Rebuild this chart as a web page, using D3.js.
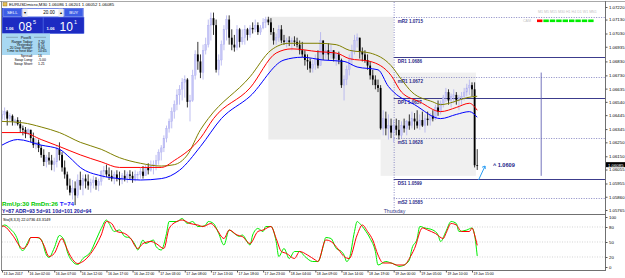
<!DOCTYPE html>
<html><head><meta charset="utf-8">
<script src="https://cdn.jsdelivr.net/npm/d3@7"></script>
<style>body{margin:0;background:#fff;overflow:hidden}svg{display:block}</style>
</head><body><svg id="c" width="625" height="278"></svg>
<script>
// ---------------- DATA ----------------
const titleText = "EURUSDmicro,M30  1.06086 1.06201 1.06052 1.06085";
const timeLabels = ["13 Jan 2017","16 Jan 02:00","16 Jan 07:00","16 Jan 12:00","16 Jan 17:00","16 Jan 22:00","17 Jan 03:00","17 Jan 08:00","17 Jan 13:00","17 Jan 18:00","17 Jan 23:00","18 Jan 04:00","18 Jan 09:00","18 Jan 14:00","18 Jan 19:00","19 Jan 00:00","19 Jan 05:00","19 Jan 10:00","19 Jan 15:00"];
const timeLabelBars = [0,10,20,30,40,50,60,70,80,90,100,110,120,130,140,150,160,170,180];
const priceTicks = [1.07220,1.07130,1.07030,1.06935,1.06830,1.06730,1.06635,1.06540,1.06445,1.06345,1.06250,1.06150,1.06055,1.05955,1.05860,1.05765];
const stochTicks = [100,80,50,20,0];
const firstOpen = 1.0642;
const highs = [1.0648,1.0650,1.0648,1.0646,1.0645,1.0642,1.0643,1.0641,1.0637,1.0636,
1.0635,1.0634,1.0632,1.0628,1.0627,1.0623,1.0620,1.0616,1.0618,1.0616,
1.0614,1.0623,1.0625,1.0618,1.0612,1.0604,1.0599,1.0598,1.0597,1.0602,
1.0604,1.0602,1.0602,1.0602,1.0599,1.0601,1.0600,1.0599,1.0605,1.0608,
1.0609,1.0607,1.0605,1.0604,1.0605,1.0604,1.0603,1.0605,1.0604,1.0605,
1.0604,1.0605,1.0604,1.0607,1.0608,1.0609,1.0610,1.0612,1.0612,1.0616,
1.0620,1.0623,1.0630,1.0637,1.0642,1.0650,1.0655,1.0663,1.0666,1.0671,
1.0673,1.0671,1.0659,1.0677,1.0691,1.0697,1.0688,1.0695,1.0700,1.0713,
1.0718,1.0718,1.0713,1.0688,1.0698,1.0709,1.0716,1.0716,1.0706,1.0702,
1.0709,1.0707,1.0706,1.0709,1.0707,1.0709,1.0711,1.0713,1.0711,1.0709,
1.0714,1.0715,1.0715,1.0714,1.0707,1.0703,1.0709,1.0709,1.0702,1.0700,
1.0701,1.0700,1.0701,1.0700,1.0698,1.0697,1.0691,1.0688,1.0685,1.0684,
1.0688,1.0691,1.0704,1.0698,1.0695,1.0696,1.0695,1.0691,1.0689,1.0690,
1.0685,1.0673,1.0680,1.0688,1.0695,1.0702,1.0703,1.0698,1.0693,1.0691,
1.0688,1.0683,1.0677,1.0673,1.0670,1.0666,1.0648,1.0647,1.0645,1.0642,
1.0641,1.0642,1.0641,1.0640,1.0642,1.0641,1.0645,1.0647,1.0646,1.0648,
1.0645,1.0647,1.0645,1.0647,1.0646,1.0648,1.0652,1.0655,1.0655,1.0659,
1.0664,1.0663,1.0660,1.0663,1.0661,1.0659,1.0661,1.0664,1.0667,1.0670,
1.0668,1.0668,1.06201];
const lows = [1.0640,1.0641,1.0637,1.0640,1.0637,1.0637,1.0637,1.0632,1.0630,1.0628,
1.0630,1.0625,1.0621,1.0620,1.0618,1.0614,1.0608,1.0607,1.0609,1.0605,
1.0604,1.0607,1.0612,1.0604,1.0599,1.0591,1.0587,1.0584,1.0580,1.0585,
1.0591,1.0587,1.0592,1.0591,1.0589,1.0592,1.0591,1.0590,1.0594,1.0599,
1.0600,1.0598,1.0597,1.0595,1.0597,1.0594,1.0595,1.0597,1.0596,1.0598,
1.0596,1.0597,1.0598,1.0599,1.0599,1.0601,1.0602,1.0604,1.0602,1.0605,
1.0609,1.0612,1.0618,1.0625,1.0632,1.0635,1.0642,1.0648,1.0652,1.0655,
1.0657,1.0650,1.0640,1.0654,1.0670,1.0677,1.0671,1.0670,1.0688,1.0693,
1.0698,1.0702,1.0675,1.0673,1.0680,1.0691,1.0698,1.0695,1.0691,1.0690,
1.0691,1.0693,1.0695,1.0695,1.0698,1.0700,1.0703,1.0704,1.0702,1.0702,
1.0706,1.0707,1.0709,1.0702,1.0695,1.0695,1.0697,1.0696,1.0695,1.0693,
1.0694,1.0691,1.0694,1.0693,1.0688,1.0686,1.0680,1.0677,1.0675,1.0675,
1.0677,1.0678,1.0683,1.0684,1.0685,1.0684,1.0685,1.0683,1.0680,1.0681,
1.0664,1.0655,1.0666,1.0673,1.0680,1.0688,1.0693,1.0685,1.0683,1.0682,
1.0677,1.0670,1.0666,1.0663,1.0661,1.0634,1.0630,1.0630,1.0627,1.0628,
1.0625,1.0630,1.0627,1.0628,1.0632,1.0630,1.0634,1.0635,1.0634,1.0635,
1.0634,1.0636,1.0632,1.0637,1.0637,1.0640,1.0641,1.0644,1.0645,1.0650,
1.0654,1.0652,1.0650,1.0653,1.0652,1.0648,1.0652,1.0655,1.0658,1.0659,
1.0658,1.0607,1.06052];
const closes = [1.0645,1.0647,1.0642,1.0644,1.0640,1.0641,1.0638,1.0635,1.0634,1.0631,
1.0634,1.0628,1.0623,1.0625,1.0621,1.0616,1.0611,1.0614,1.0612,1.0609,
1.0611,1.0620,1.0616,1.0607,1.0602,1.0594,1.0589,1.0592,1.0587,1.0598,
1.0594,1.0599,1.0597,1.0594,1.0596,1.0598,1.0594,1.0597,1.0604,1.0605,
1.0602,1.0601,1.0599,1.0602,1.0599,1.0598,1.0601,1.0599,1.0602,1.0601,
1.0599,1.0602,1.0602,1.0604,1.0601,1.0607,1.0605,1.0608,1.0609,1.0612,
1.0618,1.0621,1.0628,1.0635,1.0640,1.0647,1.0652,1.0659,1.0663,1.0668,
1.0670,1.0654,1.0655,1.0673,1.0688,1.0683,1.0675,1.0691,1.0695,1.0709,
1.0714,1.0709,1.0677,1.0684,1.0695,1.0706,1.0713,1.0700,1.0695,1.0693,
1.0706,1.0697,1.0700,1.0706,1.0702,1.0707,1.0706,1.0709,1.0704,1.0707,
1.0711,1.0713,1.0711,1.0704,1.0698,1.0700,1.0706,1.0698,1.0697,1.0698,
1.0697,1.0698,1.0697,1.0695,1.0691,1.0688,1.0684,1.0683,1.0678,1.0681,
1.0685,1.0680,1.0698,1.0688,1.0691,1.0688,1.0691,1.0685,1.0688,1.0684,
1.0666,1.0670,1.0677,1.0684,1.0691,1.0698,1.0700,1.0690,1.0688,1.0684,
1.0680,1.0673,1.0670,1.0666,1.0664,1.0635,1.0642,1.0635,1.0637,1.0632,
1.0637,1.0634,1.0630,1.0637,1.0635,1.0640,1.0637,1.0642,1.0640,1.0637,
1.0641,1.0637,1.0642,1.0641,1.0644,1.0642,1.0650,1.0647,1.0653,1.0657,
1.0661,1.0655,1.0658,1.0659,1.0655,1.0657,1.0658,1.0661,1.0664,1.0666,
1.0663,1.06086,1.06085];
const maOliveBars = [0,8,15,22,30,38,45,53,61,66,71,76,79,95,103,110,121,128,133,141,149,153,157,165,168,173,178,182];
const maOlive = [1.0640,1.0639,1.0636,1.0632,1.0625,1.0620,1.0614,1.0610,1.0608,1.0609,1.0616,1.0634,1.0642,1.0672,1.0691,1.0696,1.0696,1.0695,1.0691,1.0689,1.0680,1.0670,1.0661,1.0654,1.0652,1.0654,1.0657,1.0658];
const maRedBars = [0,8,15,22,30,38,45,53,61,66,76,81,95,105,111,121,128,133,141,149,153,160,168,174,179,182];
const maRed = [1.0632,1.0632,1.0627,1.0622,1.0616,1.0611,1.0607,1.0607,1.0607,1.0612,1.0628,1.0642,1.0664,1.0689,1.0692,1.0690,1.0689,1.0685,1.0683,1.0673,1.0661,1.0654,1.0647,1.0650,1.0653,1.0648];
const maBlueBars = [0,6,15,22,26,30,38,45,53,61,68,76,84,95,108,115,123,131,136,144,148,150,158,168,174,179,182];
const maBlue = [1.0623,1.0627,1.0623,1.0620,1.0614,1.0607,1.0601,1.0599,1.0598,1.0599,1.0605,1.0622,1.0642,1.0658,1.0684,1.0686,1.0684,1.0683,1.0679,1.0677,1.0665,1.0661,1.0652,1.0642,1.0645,1.0647,1.0643];
const stochKBars = [0,1,3,6,7,8,10,11,13,15,17,18,20,22,24,25,27,29,31,34,36,38,40,41,43,45,47,49,51,52,54,55,58,59,61,63,64,67,69,71,73,75,76,78,79,81,83,85,87,89,91,92,95,96,98,100,101,103,105,106,108,110,112,114,116,119,121,123,124,126,128,130,131,132,133,135,136,137,139,141,143,144,147,149,151,152,154,156,157,159,160,162,165,167,168,170,172,174,175,178,180,181,182];
const stochK = [81,84,77,54,37,33,51,59,59,55,24,19,38,63,51,31,11,5,17,31,54,77,94,87,71,74,61,58,44,34,54,47,54,41,34,67,91,91,97,87,91,81,81,84,91,87,67,44,74,67,61,64,44,64,77,71,81,81,51,21,37,17,31,31,21,11,11,41,59,57,37,31,24,11,17,71,91,87,74,57,31,4,11,8,4,1,4,14,37,57,81,78,74,64,51,71,91,87,71,74,78,64,22.07];
const stochDBars = [0,1,4,8,10,11,14,16,18,20,23,24,26,29,31,34,38,40,42,44,47,49,52,54,57,59,62,64,67,69,72,75,77,80,82,85,87,90,92,95,98,100,103,105,107,109,112,114,117,120,121,124,126,129,131,133,136,138,140,142,144,146,149,151,154,156,158,161,163,166,169,170,172,174,176,179,180,181,182];
const stochD = [82,81,64,37,47,59,59,44,21,27,57,47,24,7,11,27,64,91,87,71,67,59,37,47,51,47,37,77,91,94,87,84,81,87,77,57,74,64,61,47,71,74,81,57,31,27,17,31,24,14,11,54,51,34,21,17,64,84,71,54,24,8,8,4,4,17,37,78,74,67,57,67,87,84,71,71,78,64,43.31];
const pivotNames = ["mR2","DR1","mR1","DP1","mS1","DS1","mS2"];
const pivotValues = [1.0715,1.0686,1.0672,1.0657,1.0628,1.0599,1.0585];
const pivotSolid = [false,true,false,true,false,true,false];
const pivotStartBar = 150;
const dayBoxes = [{from:102,to:150}];
const sessionBox = {from:145,to:181.5,hi:1.0675,lo:1.0601};
const projectionBar = 206.5;
const projectionHi = 1.0675, projectionLo = 1.0601;
const currentPrice = 1.06085;
const markText = "^ 1.0609";
const markBar = 188, markPrice = 1.0609;
const tfNames = "M1 M5 M15 M30 H1 H4 D1 W1 MN1";
const tfStates = ["dn","up","up","up","up","up","up","up","up"];
const sellBig = ["1.06","08","5"], buyBig = ["1.06","10","1"];
const lotText = "20.00";
const infoHeader = "PivotS";
const infoRows = [["Range  Today:","7.20"],["Yesterday:","8.71"],["20 Day Range:","9.60"],["Time to next bar:","10:45"],["Spread:","16"],["Swap  Long:","-5.00"],["Swap  Short:","1.21"]];
const rangeLine1 = [["RmUp:30 ","#00c800"],["RmDn:26 ","#00c800"],[" T=74","#1a1aff"]];
const rangeLine2 = "Y=87  ADR=93  5d=91  10d=101  20d=94";
const stochLabel = "Sto(8,3,3) 22.0736 43.3149";
const dayName = "Thursday";

// ---------------- DRAW ----------------
const F = "'Liberation Sans', Arial, sans-serif";
const svg = d3.select("#c");
const axisX = 605;
const x = d3.scaleLinear().domain([0,180]).range([2,472]);
const y = d3.scaleLinear().domain([1.05765,1.07220]).range([210,7]);
const ys = d3.scaleLinear().domain([0,100]).range([267,217]);

svg.append("rect").attr("width",625).attr("height",278).attr("fill","#fff");
const defs = svg.append("defs");
defs.append("clipPath").attr("id","mainClip").append("rect").attr("x",2).attr("y",2).attr("width",axisX-2).attr("height",212);
defs.append("clipPath").attr("id","stClip").append("rect").attr("x",2).attr("y",216).attr("width",axisX-2).attr("height",54);

const main = svg.append("g").attr("clip-path","url(#mainClip)");

dayBoxes.forEach(b=>{
  const hi = d3.max(highs.slice(b.from,b.to)), lo = d3.min(lows.slice(b.from,b.to));
  main.append("rect").attr("x",x(b.from)).attr("y",y(hi)).attr("width",x(b.to)-x(b.from)).attr("height",y(lo)-y(hi)).attr("fill","#ececec");
});
main.append("rect").attr("x",x(sessionBox.from)).attr("y",y(sessionBox.hi)).attr("width",x(sessionBox.to)-x(sessionBox.from)).attr("height",y(sessionBox.lo)-y(sessionBox.hi)).attr("fill","#f0f0f0");

main.append("line").attr("x1",x(150)+0.5).attr("x2",x(150)+0.5).attr("y1",2).attr("y2",215).attr("stroke","#7070b8").attr("stroke-width",0.8).attr("stroke-dasharray","1,1.5");

pivotValues.forEach((v,i)=>{
  const yy = Math.round(y(v))+0.5;
  main.append("line").attr("x1",x(pivotStartBar)).attr("x2",axisX).attr("y1",yy).attr("y2",yy)
    .attr("stroke",pivotSolid[i]?"#3c3c8c":"#6a6ab4").attr("stroke-width",pivotSolid[i]?1:0.8)
    .attr("stroke-dasharray",pivotSolid[i]?null:"1,1.5");
  main.append("text").attr("x",x(pivotStartBar)+4).attr("y",yy+5).attr("font-family",F).attr("font-size",4.6).attr("font-weight","bold").attr("fill","#2a2a88")
    .text(pivotNames[i]+"  "+v.toFixed(4));
});

main.append("line").attr("x1",x(projectionBar)).attr("x2",x(projectionBar)).attr("y1",y(projectionHi)).attr("y2",y(projectionLo)).attr("stroke","#6464b4").attr("stroke-width",0.9);

const cg = main.append("g");
closes.forEach((c,i)=>{
  const o = i===0?firstOpen:closes[i-1];
  const bull = c>=o;
  const col = bull?"#aeaeee":"#000";
  const hi = Math.max(highs[i],o,c), lo = Math.min(lows[i],o,c);
  const cx = x(i);
  cg.append("line").attr("x1",cx).attr("x2",cx).attr("y1",y(hi)).attr("y2",y(lo)).attr("stroke",col).attr("stroke-width",0.8);
  const top = y(Math.max(o,c)), bot = y(Math.min(o,c));
  cg.append("rect").attr("x",cx-0.9).attr("width",1.8).attr("y",top).attr("height",Math.max(0.8,bot-top)).attr("fill",bull?"#c4c4f6":"#000").attr("stroke",bull?"#aaaaee":"none").attr("stroke-width",0.3);
});

const maLine = (bars,vals,color)=>{
  main.append("path").datum(bars.map((b,i)=>[b,vals[i]]))
    .attr("d",d3.line().x(d=>x(d[0])).y(d=>y(d[1])).curve(d3.curveMonotoneX))
    .attr("fill","none").attr("stroke",color).attr("stroke-width",1);
};
maLine(maOliveBars,maOlive,"#808000");
maLine(maRedBars,maRed,"#ff0000");
maLine(maBlueBars,maBlue,"#0000ff");

const ax0 = x(182.5), ay0 = y(1.0598), ax1 = x(185), ay1 = y(1.0608);
main.append("line").attr("x1",ax0).attr("y1",ay0).attr("x2",ax1).attr("y2",ay1).attr("stroke","#2a9df4").attr("stroke-width",1);
main.append("path").attr("d",`M${ax1},${ay1} l-3,1.2 M${ax1},${ay1} l0.2,3`).attr("stroke","#2a9df4").attr("stroke-width",1).attr("fill","none");
main.append("text").attr("x",x(markBar)).attr("y",y(markPrice)+2).attr("font-family",F).attr("font-size",5.6).attr("font-weight","bold").attr("fill","#22228a").text(markText);

main.append("text").attr("x",x(150)-10).attr("y",213).attr("font-family",F).attr("font-size",5.2).attr("fill","#3a3a8a").text(dayName);
const rl = main.append("text").attr("x",2).attr("y",205.5).attr("font-family",F).attr("font-size",6.2).attr("font-weight","bold");
rangeLine1.forEach(s=>rl.append("tspan").attr("fill",s[1]).text(s[0]));
main.append("text").attr("x",2).attr("y",213).attr("font-family",F).attr("font-size",5.1).attr("font-weight","bold").attr("fill","#1414a0").text(rangeLine2);

main.append("text").attr("x",538).attr("y",13).attr("font-family",F).attr("font-size",3.6).attr("fill","#c4c4c4").text(tfNames);
main.append("text").attr("x",523).attr("y",22).attr("font-family",F).attr("font-size",3.6).attr("fill","#c4c4c4").text("CAM");
tfStates.forEach((s,i)=>{
  main.append("rect").attr("x",537+i*6.4).attr("y",19.5).attr("width",5.4).attr("height",2.6).attr("fill",s==="up"?"#00ee00":"#ff0000");
});

const sg = svg.append("g").attr("clip-path","url(#stClip)");
[80,50,20].forEach(v=>{
  sg.append("line").attr("x1",2).attr("x2",axisX).attr("y1",ys(v)).attr("y2",ys(v)).attr("stroke","#bbbbbb").attr("stroke-width",0.6).attr("stroke-dasharray","1,1.5");
});
const sl = (bars,vals,color)=>{
  sg.append("path").datum(bars.map((b,i)=>[b,vals[i]]))
    .attr("d",d3.line().x(d=>x(d[0])).y(d=>ys(d[1])).curve(d3.curveMonotoneX))
    .attr("fill","none").attr("stroke",color).attr("stroke-width",1);
};
sl(stochKBars,stochK,"#00ee00");
sl(stochDBars,stochD,"#ff0000");
svg.append("text").attr("x",3).attr("y",221).attr("font-family",F).attr("font-size",3.9).attr("fill","#000").text(stochLabel);

const fr = svg.append("g").attr("stroke","#8a8a8a").attr("stroke-width",1);
fr.append("line").attr("x1",0).attr("x2",625).attr("y1",1.5).attr("y2",1.5).attr("stroke","#a8a8a8");
fr.append("line").attr("x1",1.5).attr("x2",1.5).attr("y1",1).attr("y2",271);
fr.append("line").attr("x1",1).attr("x2",axisX).attr("y1",214.5).attr("y2",214.5).attr("stroke","#707070");
fr.append("line").attr("x1",1).attr("x2",axisX).attr("y1",270.5).attr("y2",270.5).attr("stroke","#707070");
fr.append("line").attr("x1",axisX+0.5).attr("x2",axisX+0.5).attr("y1",1).attr("y2",271).attr("stroke","#707070");

const pa = svg.append("g").attr("transform",`translate(${axisX+0.5},0)`)
  .call(d3.axisRight(y).tickValues(priceTicks).tickSize(2).tickPadding(1.5).tickFormat(d3.format(".5f")));
pa.select(".domain").remove();
pa.selectAll("text").attr("font-family",F).attr("font-size",4.3).attr("fill","#000");
pa.selectAll("line").attr("stroke","#555");
svg.append("rect").attr("x",axisX+1).attr("y",y(currentPrice)-3.2).attr("width",19).attr("height",5).attr("fill","#000");
svg.append("text").attr("x",axisX+3).attr("y",y(currentPrice)+1.4).attr("font-family",F).attr("font-size",4.3).attr("fill","#fff").text(currentPrice.toFixed(5));

const sa = svg.append("g").attr("transform",`translate(${axisX+0.5},0)`)
  .call(d3.axisRight(ys).tickValues(stochTicks).tickSize(2).tickPadding(1.5));
sa.select(".domain").remove();
sa.selectAll("text").attr("font-family",F).attr("font-size",4.3).attr("fill","#000");
sa.selectAll("line").attr("stroke","#555");

const ta = svg.append("g").attr("transform","translate(0,270.5)")
  .call(d3.axisBottom(x).tickValues(timeLabelBars).tickSize(2).tickFormat((d,i)=>timeLabels[i]));
ta.select(".domain").remove();
ta.selectAll("text").attr("font-family",F).attr("font-size",3.5).attr("fill","#000").attr("text-anchor","start").attr("dx",1).attr("dy",-0.2);
ta.selectAll("line").attr("stroke","#555");

svg.append("rect").attr("x",3).attr("y",2.5).attr("width",4).attr("height",3.5).attr("fill","#e8c050").attr("stroke","#806020").attr("stroke-width",0.4);
svg.append("text").attr("x",9).attr("y",6.3).attr("font-family",F).attr("font-size",4.3).attr("fill","#000").text(titleText);

const tp = svg.append("g");
tp.append("rect").attr("x",2).attr("y",8).attr("width",81.5).attr("height",25.5).attr("fill","#2a3fd0");
const btn = (bx,bw,label)=>{
  tp.append("rect").attr("x",bx).attr("y",8.8).attr("width",bw).attr("height",7.8).attr("fill","#3d5ee6").attr("stroke","#9fb4f7").attr("stroke-width",0.5);
  tp.append("text").attr("x",bx+bw/2).attr("y",14.2).attr("text-anchor","middle").attr("font-family",F).attr("font-size",4.4).attr("fill","#fff").text(label);
};
btn(3,18.5,"SELL");
btn(64.5,18.5,"BUY");
tp.append("rect").attr("x",22.5).attr("y",8.8).attr("width",41).attr("height",7.8).attr("fill","#fff").attr("stroke","#9fb4f7").attr("stroke-width",0.5);
tp.append("rect").attr("x",22.5).attr("y",8.8).attr("width",5).attr("height",7.8).attr("fill","#ececec");
tp.append("rect").attr("x",58.5).attr("y",8.8).attr("width",5).attr("height",7.8).attr("fill","#ececec");
tp.append("text").attr("x",25).attr("y",13.8).attr("text-anchor","middle").attr("font-family",F).attr("font-size",4).text("▾");
tp.append("text").attr("x",61).attr("y",13.8).attr("text-anchor","middle").attr("font-family",F).attr("font-size",4).text("▴");
tp.append("text").attr("x",49).attr("y",14.3).attr("text-anchor","middle").attr("font-family",F).attr("font-size",4.6).attr("fill","#000").text(lotText);
const bigBox = (bx,parts)=>{
  tp.append("rect").attr("x",bx).attr("y",17.3).attr("width",40.5).attr("height",16).attr("fill","#1d2bc2").attr("stroke","#4a62e0").attr("stroke-width",0.5);
  tp.append("text").attr("x",bx+3).attr("y",30).attr("font-family",F).attr("font-size",4.2).attr("font-weight","bold").attr("fill","#fff").text(parts[0]);
  tp.append("text").attr("x",bx+16).attr("y",31).attr("font-family",F).attr("font-size",12).attr("fill","#fff").text(parts[1]);
  tp.append("text").attr("x",bx+30.5).attr("y",24).attr("font-family",F).attr("font-size",5.5).attr("fill","#fff").text(parts[2]);
};
bigBox(2.5,sellBig);
bigBox(43.5,buyBig);

svg.append("rect").attr("x",2).attr("y",33.5).attr("width",48).attr("height",21.5).attr("fill","#a8d8f2");
svg.append("text").attr("x",26).attr("y",38.5).attr("text-anchor","middle").attr("font-family",F).attr("font-size",3.6).attr("fill","#000").text(infoHeader);
svg.append("line").attr("x1",6).attr("x2",18).attr("y1",37.3).attr("y2",37.3).attr("stroke","#333").attr("stroke-width",0.3);
svg.append("line").attr("x1",34).attr("x2",46).attr("y1",37.3).attr("y2",37.3).attr("stroke","#333").attr("stroke-width",0.3);
const rowY = [42.5,45.6,49,52.3,57,61,65];
infoRows.forEach((r,i)=>{
  svg.append("text").attr("x",33).attr("y",rowY[i]).attr("text-anchor","end").attr("font-family",F).attr("font-size",3.5).attr("fill","#000").text(r[0]);
  svg.append("text").attr("x",38).attr("y",rowY[i]).attr("font-family",F).attr("font-size",3.5).attr("fill","#000").text(r[1]);
});
</script></body></html>
